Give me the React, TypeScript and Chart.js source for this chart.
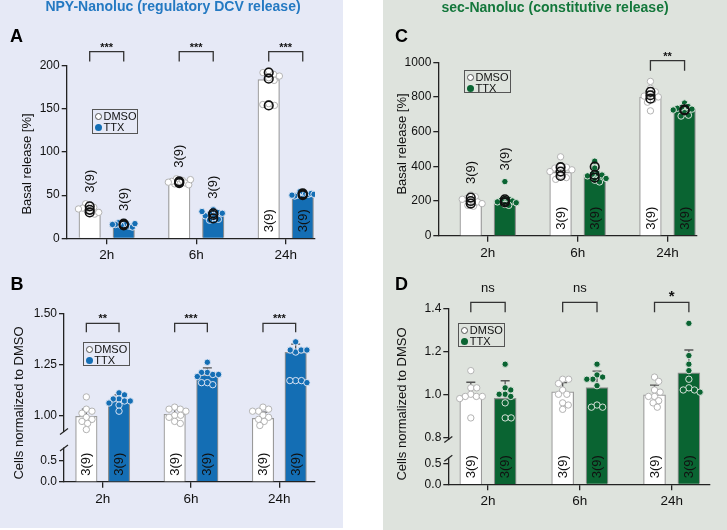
import React, { useEffect, useRef } from 'react';
import { Chart, registerables, LinearScale } from 'chart.js';

Chart.register(...registerables);

const FONT = '"Liberation Sans", Arial, Helvetica, sans-serif';
Chart.defaults.font.family = FONT;
Chart.defaults.color = '#222';

// ---------------- data ----------------
const categories = ['2h', '6h', '24h'];
const sampleSizes = ['3(9)', '3(9)', '3(9)'];
const legendLabels = ['DMSO', 'TTX'];

// Panel A - NPY-Nanoluc, basal release [%]
const aYTicks = [0, 50, 100, 150, 200];
const aYTickLabels = ['0', '50', '100', '150', '200'];
const aDmsoMean = [34, 65, 184];
const aTtxMean = [16, 27, 50];
const aDmsoPoints = [
  [38, 36, 40, 33, 35, 31, 28, 30, 34],
  [65, 67, 69, 63, 64, 66, 62, 65, 68],
  [194, 190, 192, 186, 188, 183, 156, 154, 155],
];
const aTtxPoints = [
  [19, 17, 15, 18, 14, 16, 13, 17, 16],
  [33, 30, 28, 26, 24, 22, 29, 31, 21],
  [53, 52, 54, 50, 51, 49, 52, 50, 51],
];
const aDmsoReplicates = [[37, 33, 30], [66, 65, 64], [192, 185, 154]];
const aTtxReplicates = [[17, 16, 15], [29, 27, 23], [52, 51, 50]];
const aSignificance = ['***', '***', '***'];

// Panel B - NPY-Nanoluc, cells normalized to DMSO
const bYTicks = [0, 0.5, 1.0, 1.25, 1.5];
const bYTickLabels = ['0.0', '0.5', '1.00', '1.25', '1.50'];
const bDmsoMean = [0.995, 1.005, 0.985];
const bTtxMean = [1.07, 1.197, 1.309];
const bDmsoSd = [0.035, 0.025, 0.03];
const bTtxSd = [0.03, 0.035, 0.04];
const bDmsoPoints = [
  [1.09, 1.03, 1.02, 1.01, 0.99, 0.98, 0.97, 0.96, 0.93],
  [1.04, 1.03, 1.03, 1.02, 1.0, 1.0, 0.99, 0.97, 0.96],
  [1.04, 1.03, 1.02, 1.02, 1.0, 0.99, 0.98, 0.97, 0.95],
];
const bTtxPoints = [
  [1.11, 1.1, 1.08, 1.08, 1.07, 1.07, 1.06, 1.05, 1.02],
  [1.26, 1.21, 1.2, 1.21, 1.2, 1.19, 1.16, 1.15, 1.16],
  [1.36, 1.31, 1.32, 1.32, 1.32, 1.17, 1.17, 1.17, 1.16],
];
const bSignificance = ['**', '***', '***'];

// Panel C - sec-Nanoluc, basal release [%]
const cYTicks = [0, 200, 400, 600, 800, 1000];
const cYTickLabels = ['0', '200', '400', '600', '800', '1000'];
const cDmsoMean = [200, 365, 800];
const cTtxMean = [205, 352, 730];
const cDmsoSd = [20, 25, 30];
const cTtxSd = [15, 40, 25];
const cDmsoPoints = [
  [235, 225, 215, 210, 200, 195, 185, 175, 170],
  [455, 400, 395, 390, 380, 370, 345, 335, 325],
  [890, 850, 830, 815, 805, 800, 785, 770, 720],
];
const cTtxPoints = [
  [312, 215, 210, 205, 200, 195, 190, 180, 175],
  [430, 390, 360, 355, 350, 345, 330, 320, 310],
  [765, 745, 740, 735, 730, 725, 710, 695, 690],
];
const cDmsoReplicates = [[220, 200, 185], [395, 370, 345], [830, 810, 790]];
const cTtxReplicates = [[210, 200, 192], [398, 350, 335], [728, 725, 722]];
const cSignificance = [null, null, '**'];

// Panel D - sec-Nanoluc, cells normalized to DMSO
const dYTicks = [0, 0.5, 0.8, 1.0, 1.2, 1.4];
const dYTickLabels = ['0.0', '0.5', '0.8', '1.0', '1.2', '1.4'];
const dDmsoMean = [0.993, 1.011, 0.997];
const dTtxMean = [0.981, 1.031, 1.1];
const dDmsoSd = [0.063, 0.043, 0.046];
const dTtxSd = [0.082, 0.077, 0.106];
const dDmsoPoints = [
  [1.11, 1.03, 1.03, 1.0, 0.99, 0.99, 0.99, 0.98, 0.89],
  [1.07, 1.07, 1.05, 1.02, 1.0, 1.0, 0.96, 0.95, 0.93],
  [1.08, 1.06, 1.02, 1.01, 0.99, 0.99, 0.97, 0.96, 0.94],
];
const dTtxPoints = [
  [1.14, 1.03, 1.02, 1.0, 1.0, 0.99, 0.96, 0.89, 0.89],
  [1.14, 1.09, 1.08, 1.07, 1.07, 1.04, 0.95, 0.94, 0.94],
  [1.33, 1.18, 1.14, 1.11, 1.07, 1.03, 1.02, 1.02, 1.01],
];
const dSignificance = ['ns', 'ns', '*'];

// ---------------- styles ----------------
const BG_LEFT = '#e6e9f6';
const BG_RIGHT = '#dee3dd';
const BLUE = '#146eb4';
const GREEN = '#0a6432';
const BLUE_TITLE = '#2479c2';
const GREEN_TITLE = '#13773b';
const PT_R = 3.2;
const REP_R = 4.3;

type Brk = { lowMax: number; highMin: number; lowFrac: number; gapFrac: number };

function makeBroken(scaleId: string, brk: Brk) {
  class Broken extends LinearScale {
    static id = scaleId;
    static defaults = {};
    getPixelForValue(value: number) {
      const s: any = this;
      const H = s.bottom - s.top;
      const lowH = brk.lowFrac * H;
      const gapH = brk.gapFrac * H;
      const yLow = s.bottom - lowH;
      const yHigh = yLow - gapH;
      if (value <= brk.lowMax) return s.bottom - ((value - s.min) / (brk.lowMax - s.min)) * lowH;
      if (value <= brk.highMin) return yLow - ((value - brk.lowMax) / (brk.highMin - brk.lowMax)) * gapH;
      return yHigh - ((value - brk.highMin) / (s.max - brk.highMin)) * (yHigh - s.top);
    }
    getValueForPixel(pixel: number) {
      const s: any = this;
      const H = s.bottom - s.top;
      const lowH = brk.lowFrac * H;
      const gapH = brk.gapFrac * H;
      const yLow = s.bottom - lowH;
      const yHigh = yLow - gapH;
      if (pixel >= yLow) return s.min + ((s.bottom - pixel) / lowH) * (brk.lowMax - s.min);
      if (pixel >= yHigh) return brk.lowMax + ((yLow - pixel) / gapH) * (brk.highMin - brk.lowMax);
      return brk.highMin + ((yHigh - pixel) / (yHigh - s.top)) * (s.max - brk.highMin);
    }
  }
  return Broken;
}

const bBreak: Brk = { lowMax: 0.8, highMin: 0.92, lowFrac: 0.2, gapFrac: 0.0975 };
const dBreak: Brk = { lowMax: 0.62, highMin: 0.79, lowFrac: 0.148, gapFrac: 0.107 };
Chart.register(makeBroken('brokenB', bBreak) as any, makeBroken('brokenD', dBreak) as any);

interface PanelDef {
  key: string;
  left: number; top: number; width: number; height: number;
  area: { left: number; top: number; right: number; bottom: number };
  xMin: number; xMax: number; barOffset: number; barWidth: number;
  yType: string; yMin: number; yMax: number; yTicks: number[]; yTickLabels: string[];
  brk?: Brk;
  color: string; bg: string; ptBorder: string;
  dmsoMean: number[]; ttxMean: number[];
  dmsoSd?: number[]; ttxSd?: number[];
  dmsoPts: number[][]; ttxPts: number[][];
  dmsoRep?: number[][]; ttxRep?: number[][];
  sig: (string | null)[];
  bracketTop: number; bracketLeg: number;
  dmsoLabelAbove: boolean[]; ttxLabelAbove: boolean[];
}

const panels: PanelDef[] = [
  {
    key: 'A', left: 0, top: 0, width: 343, height: 265,
    area: { left: 66.7, top: 65.7, right: 315, bottom: 238.3 },
    xMin: -0.447, xMax: 2.327, barOffset: 0.19, barWidth: 21.5,
    yType: 'linear', yMin: 0, yMax: 200, yTicks: aYTicks, yTickLabels: aYTickLabels,
    color: BLUE, bg: BG_LEFT, ptBorder: 'rgba(225,232,245,0.95)',
    dmsoMean: aDmsoMean, ttxMean: aTtxMean,
    dmsoPts: aDmsoPoints, ttxPts: aTtxPoints, dmsoRep: aDmsoReplicates, ttxRep: aTtxReplicates,
    sig: aSignificance, bracketTop: -14, bracketLeg: -4.2,
    dmsoLabelAbove: [true, true, false], ttxLabelAbove: [true, true, false],
  },
  {
    key: 'B', left: 0, top: 265, width: 343, height: 265,
    area: { left: 64, top: 48.3, right: 315, bottom: 216.7 },
    xMin: -0.438, xMax: 2.404, barOffset: 0.185, barWidth: 21.5,
    yType: 'brokenB', yMin: 0, yMax: 1.5, yTicks: bYTicks, yTickLabels: bYTickLabels, brk: bBreak,
    color: BLUE, bg: BG_LEFT, ptBorder: 'rgba(225,232,245,0.95)',
    dmsoMean: bDmsoMean, ttxMean: bTtxMean, dmsoSd: bDmsoSd, ttxSd: bTtxSd,
    dmsoPts: bDmsoPoints, ttxPts: bTtxPoints,
    sig: bSignificance, bracketTop: 10, bracketLeg: 19,
    dmsoLabelAbove: [false, false, false], ttxLabelAbove: [false, false, false],
  },
  {
    key: 'C', left: 383, top: 0, width: 344, height: 265,
    area: { left: 55.3, top: 62.3, right: 313.7, bottom: 235.7 },
    xMin: -0.551, xMax: 2.325, barOffset: 0.19, barWidth: 21.7,
    yType: 'linear', yMin: 0, yMax: 1000, yTicks: cYTicks, yTickLabels: cYTickLabels,
    color: GREEN, bg: BG_RIGHT, ptBorder: 'rgba(225,232,225,0.95)',
    dmsoMean: cDmsoMean, ttxMean: cTtxMean, dmsoSd: cDmsoSd, ttxSd: cTtxSd,
    dmsoPts: cDmsoPoints, ttxPts: cTtxPoints, dmsoRep: cDmsoReplicates, ttxRep: cTtxReplicates,
    sig: cSignificance, bracketTop: -1.6, bracketLeg: 8.4,
    dmsoLabelAbove: [true, false, false], ttxLabelAbove: [true, false, false],
  },
  {
    key: 'D', left: 383, top: 265, width: 344, height: 265,
    area: { left: 65.3, top: 43.3, right: 327, bottom: 219.3 },
    xMin: -0.432, xMax: 2.417, barOffset: 0.187, barWidth: 22,
    yType: 'brokenD', yMin: 0, yMax: 1.4, yTicks: dYTicks, yTickLabels: dYTickLabels, brk: dBreak,
    color: GREEN, bg: BG_RIGHT, ptBorder: 'rgba(225,232,225,0.95)',
    dmsoMean: dDmsoMean, ttxMean: dTtxMean, dmsoSd: dDmsoSd, ttxSd: dTtxSd,
    dmsoPts: dDmsoPoints, ttxPts: dTtxPoints,
    sig: dSignificance, bracketTop: -6, bracketLeg: 4,
    dmsoLabelAbove: [false, false, false], ttxLabelAbove: [false, false, false],
  },
];

function swarm(pys: number[], r: number, limit: number): number[] {
  const placed: { x: number; y: number }[] = [];
  const out = new Array(pys.length).fill(0);
  pys.forEach((y, i) => {
    const ivs: [number, number][] = [];
    for (const p of placed) {
      const dy = Math.abs(p.y - y);
      if (dy < 2 * r) {
        const dx = Math.sqrt(4 * r * r - dy * dy);
        ivs.push([p.x - dx, p.x + dx]);
      }
    }
    const cands = [0];
    ivs.forEach(([a, b]) => cands.push(a, b));
    cands.sort((a, b) => Math.abs(a) - Math.abs(b) || b - a);
    let x = 0;
    for (const c of cands) {
      if (ivs.every(([a, b]) => c <= a + 1e-6 || c >= b - 1e-6)) { x = c; break; }
    }
    placed.push({ x, y });
    out[i] = x;
  });
  const maxAbs = Math.max(...out.map((v) => Math.abs(v)));
  const k = maxAbs > limit ? limit / maxAbs : 1;
  return out.map((v) => v * k);
}

function decorPlugin(d: PanelDef) {
  return {
    id: 'decor' + d.key,
    beforeDatasetsDraw(chart: any) {
      if (!d.dmsoSd || !d.ttxSd) return;
      const { ctx } = chart;
      const xs = chart.scales.x, ys = chart.scales.y;
      ctx.save();
      ctx.strokeStyle = '#555';
      ctx.lineWidth = 1.3;
      const draw = (means: number[], sds: number[], o: number) => means.forEach((m, i) => {
        const cx = xs.getPixelForValue(i + o);
        const y0 = ys.getPixelForValue(m);
        const y1 = ys.getPixelForValue(m + sds[i]);
        ctx.beginPath();
        ctx.moveTo(cx, y0); ctx.lineTo(cx, y1);
        ctx.moveTo(cx - 4.5, y1); ctx.lineTo(cx + 4.5, y1);
        ctx.stroke();
      });
      draw(d.dmsoMean, d.dmsoSd, -d.barOffset);
      draw(d.ttxMean, d.ttxSd, d.barOffset);
      ctx.restore();
    },
    afterDatasetsDraw(chart: any) {
      const { ctx, chartArea } = chart;
      const xs = chart.scales.x, ys = chart.scales.y;
      ctx.save();
      ctx.font = `13px ${FONT}`;
      ctx.fillStyle = '#111';
      ctx.textAlign = 'left';
      ctx.textBaseline = 'middle';
      const put = (pts: number[][], means: number[], sds: number[] | undefined, above: boolean[], o: number) =>
        pts.forEach((vals, i) => {
          const cx = xs.getPixelForValue(i + o);
          let yb: number;
          if (above[i]) {
            const topVal = Math.max(...vals, means[i] + (sds ? sds[i] : 0));
            yb = ys.getPixelForValue(topVal) - 11;
          } else {
            yb = chartArea.bottom - 6;
          }
          ctx.save();
          ctx.translate(cx + 0.5, yb);
          ctx.rotate(-Math.PI / 2);
          ctx.fillText(sampleSizes[i], 0, 0);
          ctx.restore();
        });
      put(d.dmsoPts, d.dmsoMean, d.dmsoSd, d.dmsoLabelAbove, -d.barOffset);
      put(d.ttxPts, d.ttxMean, d.ttxSd, d.ttxLabelAbove, d.barOffset);
      ctx.restore();
    },
    afterDraw(chart: any) {
      const { ctx, chartArea } = chart;
      const xs = chart.scales.x, ys = chart.scales.y;
      ctx.save();
      ctx.strokeStyle = '#333';
      ctx.lineWidth = 1.3;
      ctx.fillStyle = '#111';
      ctx.textAlign = 'center';
      ctx.textBaseline = 'alphabetic';
      d.sig.forEach((s, i) => {
        if (!s) return;
        const x1 = xs.getPixelForValue(i - d.barOffset);
        const x2 = xs.getPixelForValue(i + d.barOffset);
        const yt = chartArea.top + d.bracketTop;
        const yl = chartArea.top + d.bracketLeg;
        ctx.beginPath();
        ctx.moveTo(x1, yl); ctx.lineTo(x1, yt); ctx.lineTo(x2, yt); ctx.lineTo(x2, yl);
        ctx.stroke();
        if (s === 'ns') {
          ctx.font = `13px ${FONT}`;
          ctx.fillText(s, (x1 + x2) / 2, yt - 10);
        } else if (s === '*') {
          ctx.font = `bold 15px ${FONT}`;
          ctx.fillText(s, (x1 + x2) / 2, yt - 1);
        } else {
          ctx.font = `bold 11px ${FONT}`;
          ctx.fillText(s, (x1 + x2) / 2, yt - 1);
        }
      });
      if (d.brk) {
        const ax = chartArea.left;
        const yHigh = ys.getPixelForValue(d.brk.highMin);
        const yLow = ys.getPixelForValue(d.brk.lowMax);
        ctx.fillStyle = d.bg;
        ctx.fillRect(ax - 3, yHigh + 0.5, 6, yLow - yHigh - 1);
        ctx.strokeStyle = '#222';
        ctx.lineWidth = 1.2;
        [yHigh, yLow].forEach((yy) => {
          ctx.beginPath();
          ctx.moveTo(ax - 4, yy + 3);
          ctx.lineTo(ax + 4, yy - 3);
          ctx.stroke();
        });
      }
      ctx.restore();
    },
  };
}

function buildConfig(d: PanelDef): any {
  const off = d.barOffset;
  const centered = (pts: number[][], o: number) =>
    pts.flatMap((vals, i) => vals.map((v) => ({ x: i + o, y: v })));
  const datasets: any[] = [];
  if (d.dmsoRep && d.ttxRep) {
    const rep = (r: number[][], o: number, label: string) => ({
      type: 'scatter', label, data: centered(r, o), order: 0,
      pointRadius: REP_R, pointBorderWidth: 1.6, pointBorderColor: '#111',
      pointBackgroundColor: 'rgba(0,0,0,0)',
    });
    datasets.push(rep(d.dmsoRep, -off, 'DMSO replicates'), rep(d.ttxRep, off, 'TTX replicates'));
  }
  datasets.push({
    type: 'scatter', label: 'DMSO points', data: centered(d.dmsoPts, -off), order: 1,
    pointRadius: PT_R, pointBorderWidth: 1, pointBackgroundColor: '#ffffff', pointBorderColor: '#b3b3b3',
  });
  datasets.push({
    type: 'scatter', label: 'TTX points', data: centered(d.ttxPts, off), order: 1,
    pointRadius: PT_R, pointBorderWidth: 1, pointBackgroundColor: d.color, pointBorderColor: d.ptBorder,
  });
  datasets.push({
    type: 'bar', label: legendLabels[0], data: d.dmsoMean.map((v, i) => ({ x: i - off, y: v })),
    backgroundColor: '#ffffff', borderColor: '#9a9a9a', borderWidth: 1.2,
    barThickness: d.barWidth, maxBarThickness: d.barWidth, grouped: false, order: 3,
  });
  datasets.push({
    type: 'bar', label: legendLabels[1], data: d.ttxMean.map((v, i) => ({ x: i + off, y: v })),
    backgroundColor: d.color, borderColor: '#8f8f8f', borderWidth: 1.2,
    barThickness: d.barWidth, maxBarThickness: d.barWidth, grouped: false, order: 3,
  });
  const axisGrid = (len: number) => ({
    drawOnChartArea: false, drawTicks: true, tickLength: len, color: '#222', lineWidth: 1.3,
  });
  return {
    type: 'bar',
    data: { datasets },
    options: {
      responsive: false,
      animation: false,
      events: [],
      layout: { padding: { left: 0, top: d.area.top, right: d.width - d.area.right, bottom: 0 } },
      plugins: { legend: { display: false }, tooltip: { enabled: false } },
      scales: {
        x: {
          type: 'linear', min: d.xMin, max: d.xMax, offset: false, bounds: 'data',
          afterBuildTicks: (s: any) => { s.ticks = categories.map((_, i) => ({ value: i })); },
          afterFit: (s: any) => { s.height = d.height - d.area.bottom; },
          ticks: {
            callback: (_v: any, i: number) => categories[i], autoSkip: false, maxRotation: 0,
            font: { size: 13.5, family: FONT }, color: '#111', padding: 3,
          },
          grid: { ...axisGrid(6), offset: false },
          border: { display: true, color: '#222', width: 1.3 },
        },
        y: {
          type: d.yType, min: d.yMin, max: d.yMax, offset: false,
          afterBuildTicks: (s: any) => { s.ticks = d.yTicks.map((v) => ({ value: v })); },
          afterFit: (s: any) => { s.width = d.area.left; },
          ticks: {
            callback: (_v: any, i: number) => d.yTickLabels[i], autoSkip: false,
            font: { size: 12, family: FONT }, color: '#111', padding: 2,
          },
          grid: axisGrid(5),
          border: { display: true, color: '#222', width: 1.3 },
        },
      },
    },
    plugins: [decorPlugin(d)],
  };
}

function spreadPoints(chart: any, d: PanelDef) {
  const xs = chart.scales.x, ys = chart.scales.y;
  const unit = xs.getPixelForValue(1) - xs.getPixelForValue(0);
  const limit = d.barWidth / 2 + 0.5;
  const build = (pts: number[][], o: number) =>
    pts.flatMap((vals, i) => {
      const offs = swarm(vals.map((v) => ys.getPixelForValue(v)), PT_R - 0.2, limit);
      return vals.map((v, j) => ({ x: i + o + offs[j] / unit, y: v }));
    });
  chart.data.datasets.forEach((ds: any) => {
    if (ds.label === 'DMSO points') ds.data = build(d.dmsoPts, -d.barOffset);
    if (ds.label === 'TTX points') ds.data = build(d.ttxPts, d.barOffset);
  });
  chart.update();
}

function PanelChart({ def }: { def: PanelDef }) {
  const ref = useRef<HTMLCanvasElement>(null);
  useEffect(() => {
    const canvas = ref.current;
    if (!canvas) return;
    const chart = new Chart(canvas, buildConfig(def));
    spreadPoints(chart, def);
    return () => chart.destroy();
  }, [def]);
  return (
    <canvas
      ref={ref}
      width={def.width}
      height={def.height}
      style={{ position: 'absolute', left: def.left, top: def.top, width: def.width, height: def.height, zIndex: 1 }}
    />
  );
}

function Legend({ left, top, width, height, color }: { left: number; top: number; width: number; height: number; color: string }) {
  const row: React.CSSProperties = { display: 'flex', alignItems: 'center', height: 11, lineHeight: '11px' };
  const dot: React.CSSProperties = { width: 7, height: 7, borderRadius: '50%', boxSizing: 'border-box', marginRight: 1.5, flex: 'none' };
  return (
    <div
      style={{
        position: 'absolute', left, top, width, height, boxSizing: 'border-box', border: '1px solid #555',
        padding: '1px 0 0 2px', font: `11px ${FONT}`, color: '#111', zIndex: 2, whiteSpace: 'nowrap',
      }}
    >
      <div style={row}><span style={{ ...dot, border: '1px solid #555', background: '#fff' }} />{legendLabels[0]}</div>
      <div style={row}><span style={{ ...dot, background: color }} />{legendLabels[1]}</div>
    </div>
  );
}

function Rotated({ cx, cy, text }: { cx: number; cy: number; text: string }) {
  return (
    <div
      style={{
        position: 'absolute', left: cx, top: cy, transform: 'translate(-50%, -50%) rotate(-90deg)',
        whiteSpace: 'nowrap', font: `13px ${FONT}`, lineHeight: '13px', color: '#111', zIndex: 2,
      }}
    >
      {text}
    </div>
  );
}

function Abs({ left, top, children, style }: { left: number; top: number; children: React.ReactNode; style?: React.CSSProperties }) {
  return <div style={{ position: 'absolute', left, top, whiteSpace: 'nowrap', zIndex: 2, ...style }}>{children}</div>;
}

export default function App() {
  const letter: React.CSSProperties = { font: `bold 18px ${FONT}`, lineHeight: '18px', color: '#000' };
  return (
    <div style={{ position: 'fixed', left: 0, top: 0, width: 727, height: 530, background: '#fff', overflow: 'hidden', fontFamily: FONT }}>
      <div style={{ position: 'absolute', left: 0, top: 0, width: 343, height: 528, background: BG_LEFT }} />
      <div style={{ position: 'absolute', left: 383, top: 0, width: 344, height: 530, background: BG_RIGHT }} />
      {panels.map((p) => <PanelChart key={p.key} def={p} />)}
      <div style={{ position: 'absolute', left: 0, top: -1, width: 346, textAlign: 'center', font: `bold 14px ${FONT}`, lineHeight: '14px', color: BLUE_TITLE, zIndex: 2 }}>
        NPY-Nanoluc (regulatory DCV release)
      </div>
      <div style={{ position: 'absolute', left: 383, top: 0, width: 344, textAlign: 'center', font: `bold 14px ${FONT}`, lineHeight: '14px', color: GREEN_TITLE, zIndex: 2 }}>
        sec-Nanoluc (constitutive release)
      </div>
      <Abs left={10} top={27} style={letter}>A</Abs>
      <Abs left={10.5} top={275.3} style={letter}>B</Abs>
      <Abs left={395} top={27} style={letter}>C</Abs>
      <Abs left={395} top={275.3} style={letter}>D</Abs>
      <Rotated cx={25.8} cy={164} text="Basal release [%]" />
      <Rotated cx={18} cy={403} text="Cells normalized to DMSO" />
      <Rotated cx={401.3} cy={144} text="Basal release [%]" />
      <Rotated cx={401.3} cy={404} text="Cells normalized to DMSO" />
      <Legend left={92} top={108.5} width={46} height={25} color={BLUE} />
      <Legend left={82.7} top={341.7} width={47} height={24.5} color={BLUE} />
      <Legend left={464} top={69.5} width={47} height={23.5} color={GREEN} />
      <Legend left={458.3} top={322.7} width={47} height={24.6} color={GREEN} />
    </div>
  );
}
